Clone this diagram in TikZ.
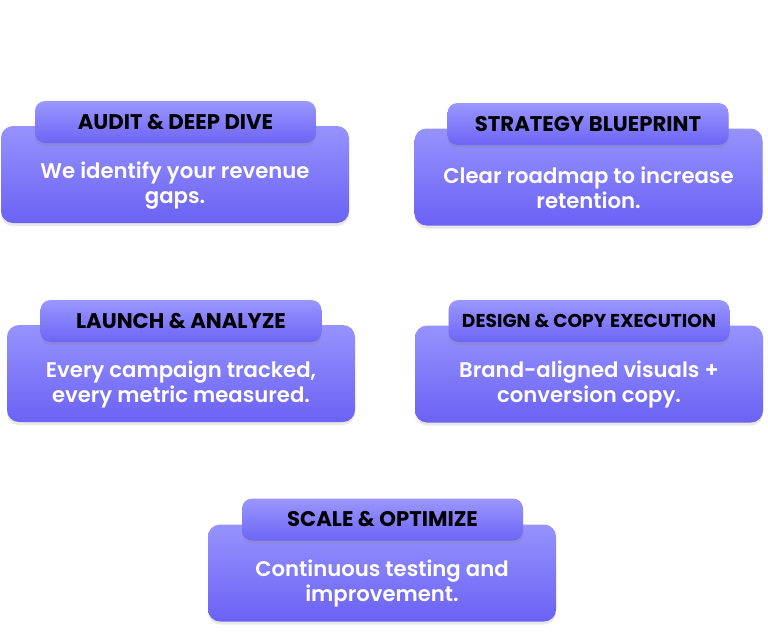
\documentclass[tikz,border=0pt]{standalone}
\usepackage{fontspec}
\setmainfont{Poppins}[UprightFont=* SemiBold, BoldFont=* Bold]
\usepackage{tikz}
\usetikzlibrary{shadows}
\usepackage{xcolor}
\definecolor{cardtop}{HTML}{9693FE}
\definecolor{cardbot}{HTML}{6B62F4}
\definecolor{tabtop}{HTML}{9A97FF}
\definecolor{tabbot}{HTML}{6D65F6}

\tikzset{
  cardbox/.style={rounded corners=12pt, minimum width=348pt, minimum height=97pt,
    top color=cardtop, bottom color=cardbot, draw=none,
    drop shadow={opacity=0.18, shadow xshift=0pt, shadow yshift=-3pt}},
  cardtab/.style={rounded corners=10pt, minimum width=281pt, minimum height=42pt,
    top color=tabtop, bottom color=tabbot, draw=none, text=black, inner sep=0pt,
    font=\fontsize{21.2}{24}\selectfont\bfseries,
    drop shadow={opacity=0.25, shadow xshift=0pt, shadow yshift=-3pt}},
  cardtext/.style={text=white, align=center, inner sep=0pt,
    font=\fontsize{21.2}{25}\selectfont}
}

\begin{document}
\begin{tikzpicture}[x=1pt,y=-1pt]
\useasboundingbox (0,0) rectangle (768,632);

\node [cardbox] (audit) at (175,174.5) {};
\node [cardtab] (audit-tab) at (175.5,122) {AUDIT \& DEEP DIVE};
\node [cardtext] (audit-txt) at (175,185.5) {We identify your revenue\\gaps.};

\node [cardbox] (blueprint) at (588.5,177) {};
\node [cardtab] (blueprint-tab) at (588,124) {STRATEGY BLUEPRINT};
\node [cardtext] (blueprint-txt) at (588.5,187.5) {Clear roadmap to increase\\retention.};

\node [cardbox] (launch) at (181,373.5) {};
\node [cardtab] (launch-tab) at (181,321) {LAUNCH \& ANALYZE};
\node [cardtext] (launch-txt) at (181,384.5) {Every campaign tracked,\\every metric measured.};

\node [cardbox] (design) at (589,374) {};
\node [cardtab, font=\fontsize{18.6}{22}\selectfont\bfseries] (design-tab) at (589,321) {DESIGN \& COPY EXECUTION};
\node [cardtext] (design-txt) at (589,384.5) {Brand-aligned visuals +\\conversion copy.};

\node [cardbox] (scale) at (382,573) {};
\node [cardtab] (scale-tab) at (382.5,519.5) {SCALE \& OPTIMIZE};
\node [cardtext] (scale-txt) at (382,583.5) {Continuous testing and\\improvement.};
\end{tikzpicture}
\end{document}
